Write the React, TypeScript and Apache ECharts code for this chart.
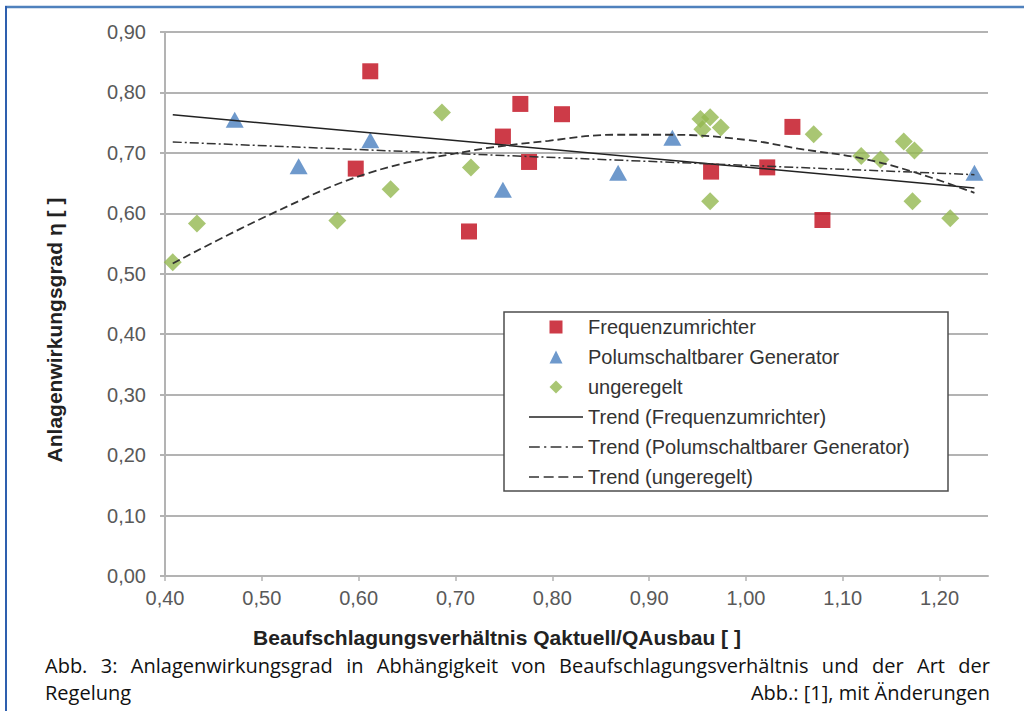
import React, { useEffect, useRef } from 'react';
import * as echarts from 'echarts';

// ---- data ----
const xTickValues = [0.4, 0.5, 0.6, 0.7, 0.8, 0.9, 1.0, 1.1, 1.2];

const freqX = [0.612, 0.597, 0.714, 0.749, 0.767, 0.776, 0.810, 0.964, 1.022, 1.048, 1.079];
const freqY = [0.835, 0.674, 0.570, 0.727, 0.781, 0.685, 0.764, 0.669, 0.676, 0.743, 0.589];

const polX = [0.472, 0.538, 0.612, 0.749, 0.868, 0.924, 1.236];
const polY = [0.755, 0.678, 0.721, 0.639, 0.667, 0.725, 0.667];

const ungX = [0.408, 0.433, 0.578, 0.633, 0.686, 0.716, 0.953, 0.963, 0.955, 0.974, 0.963, 1.070, 1.119, 1.139, 1.163, 1.174, 1.172, 1.211];
const ungY = [0.519, 0.583, 0.588, 0.640, 0.767, 0.676, 0.756, 0.759, 0.739, 0.742, 0.620, 0.731, 0.695, 0.689, 0.719, 0.704, 0.620, 0.592];

const trendFreqX = [0.408, 1.236];
const trendFreqY = [0.763, 0.642];

const trendPolX = [0.408, 1.236];
const trendPolY = [0.718, 0.664];

const trendUngX = [0.408, 0.511, 0.611, 0.714, 0.796, 0.865, 0.923, 1.003, 1.054, 1.116, 1.170, 1.236];
const trendUngY = [0.517, 0.600, 0.667, 0.703, 0.720, 0.730, 0.730, 0.721, 0.707, 0.692, 0.670, 0.634];

const seriesNames = [
  'Frequenzumrichter',
  'Polumschaltbarer Generator',
  'ungeregelt',
  'Trend (Frequenzumrichter)',
  'Trend (Polumschaltbarer Generator)',
  'Trend (ungeregelt)',
];

const yAxisTitle = 'Anlagenwirkungsgrad η [ ]';
const xAxisTitle = 'Beaufschlagungsverhältnis Qaktuell/QAusbau [ ]';
const captionLine1 = 'Abb. 3: Anlagenwirkungsgrad in Abhängigkeit von Beaufschlagungsverhältnis und der Art der';
const captionLine2Left = 'Regelung';
const captionLine2Right = 'Abb.: [1], mit Änderungen';

const pairs = (xs: number[], ys: number[]) => xs.map((x, i) => [x, ys[i]]);
const fmt = (v: number) => v.toFixed(2).replace('.', ',');

const FONT = '"Liberation Sans", Arial, sans-serif';
const CAP_FONT_FAMILY = '"Open Sans", "Noto Sans", sans-serif';
const CAP_SIZE = 20;

// legend icons (filled paths; aspect kept)
const ICON_SQUARE = 'path://M0,0L10,0L10,10L0,10Z';
const ICON_TRIANGLE = 'path://M5,0L10,10L0,10Z';
const ICON_DIAMOND = 'path://M5,0L10,5L5,10L0,5Z';
const ICON_SOLID = 'path://M0,0L54,0L54,1.5L0,1.5Z';
const ICON_DASHDOT =
  'path://M0,0h10v1.5h-10z M14,0h2v1.5h-2z M20,0h10v1.5h-10z M34,0h2v1.5h-2z M40,0h10v1.5h-10z';
const ICON_DASHED =
  'path://M0,0h10v1.5h-10z M14.67,0h10v1.5h-10z M29.33,0h10v1.5h-10z M44,0h10v1.5h-10z';

function justifiedWords(text: string, x0: number, x1: number, y: number) {
  const canvas = document.createElement('canvas');
  const ctx = canvas.getContext('2d')!;
  ctx.font = `${CAP_SIZE}px "Open Sans"`;
  const words = text.split(' ');
  const widths = words.map((w) => ctx.measureText(w).width);
  const total = widths.reduce((a, b) => a + b, 0);
  const gap = (x1 - x0 - total) / (words.length - 1);
  let x = x0;
  return words.map((w, i) => {
    const el = {
      type: 'text',
      x,
      y,
      style: {
        text: w,
        fontSize: CAP_SIZE,
        lineHeight: 20,
        fontFamily: CAP_FONT_FAMILY,
        fill: '#111',
        align: 'left',
        verticalAlign: 'middle',
      },
    };
    x += widths[i] + gap;
    return el;
  });
}

export default function App() {
  const ref = useRef<HTMLDivElement>(null);

  useEffect(() => {
    document.body.style.margin = '0';
    const chart = echarts.init(ref.current!, undefined, { renderer: 'svg' });

    const lineBase = { type: 'line', symbol: 'none', silent: true, z: 3 };

    chart.setOption({
      animation: false,
      backgroundColor: '#ffffff',
      textStyle: { fontFamily: FONT },
      grid: { left: 165, top: 32, right: 36, bottom: 135 },
      xAxis: {
        type: 'value',
        min: 0.4,
        max: 1.25,
        interval: 0.1,
        axisLine: { show: true, lineStyle: { color: '#b3b3b3', width: 2 } },
        axisTick: { show: true, length: 5, customValues: xTickValues, lineStyle: { color: '#b3b3b3', width: 1.5 } },
        axisLabel: {
          customValues: xTickValues,
          formatter: (v: number) => fmt(v),
          fontSize: 20,
          color: '#595959',
          margin: 12,
          fontFamily: FONT,
        },
        splitLine: { show: false },
      },
      yAxis: {
        type: 'value',
        min: 0,
        max: 0.9,
        interval: 0.1,
        axisLine: { show: true, lineStyle: { color: '#b3b3b3', width: 2 } },
        axisTick: { show: true, length: 5, lineStyle: { color: '#b3b3b3', width: 2 } },
        axisLabel: {
          formatter: (v: number) => fmt(v),
          fontSize: 20,
          color: '#595959',
          margin: 19,
          fontFamily: FONT,
        },
        splitLine: { show: true, lineStyle: { color: '#b3b3b3', width: 2 } },
      },
      legend: {
        orient: 'vertical',
        left: 529,
        top: 317,
        padding: 0,
        itemWidth: 54,
        itemHeight: 13,
        itemGap: 10,
        selectedMode: false,
        symbolKeepAspect: true,
        itemStyle: { borderWidth: 0 },
        z: 10,
        textStyle: { fontSize: 20, color: '#333', fontFamily: FONT },
        data: [
          { name: seriesNames[0], icon: ICON_SQUARE },
          { name: seriesNames[1], icon: ICON_TRIANGLE },
          { name: seriesNames[2], icon: ICON_DIAMOND },
          { name: seriesNames[3], icon: ICON_SOLID },
          { name: seriesNames[4], icon: ICON_DASHDOT },
          { name: seriesNames[5], icon: ICON_DASHED },
        ],
      },
      graphic: [
        { type: 'line', z: 5, shape: { x1: 5, y1: 7, x2: 1024, y2: 7 }, style: { stroke: '#4f81bd', lineWidth: 2.5 } },
        { type: 'line', z: 5, shape: { x1: 6, y1: 6, x2: 6, y2: 711 }, style: { stroke: '#2e5fae', lineWidth: 2 } },
        {
          type: 'rect',
          z: 8,
          shape: { x: 504, y: 312, width: 444, height: 179 },
          style: { fill: '#ffffff', stroke: '#4d4d4d', lineWidth: 1.5 },
        },
        {
          type: 'text',
          x: 54,
          y: 330,
          rotation: Math.PI / 2,
          style: {
            text: yAxisTitle,
            fontSize: 21,
            fontWeight: 'bold',
            fontFamily: FONT,
            fill: '#222',
            align: 'center',
            verticalAlign: 'middle',
          },
        },
        {
          type: 'text',
          x: 497,
          y: 637,
          style: {
            text: xAxisTitle,
            fontSize: 21,
            fontWeight: 'bold',
            fontFamily: FONT,
            fill: '#222',
            align: 'center',
            verticalAlign: 'middle',
          },
        },
        ...justifiedWords(captionLine1, 45, 990, 665),
        {
          type: 'text',
          x: 45,
          y: 692,
          style: { text: captionLine2Left, fontSize: CAP_SIZE, lineHeight: 20, fontFamily: CAP_FONT_FAMILY, fill: '#111', align: 'left', verticalAlign: 'middle' },
        },
        {
          type: 'text',
          x: 990,
          y: 692,
          style: { text: captionLine2Right, fontSize: CAP_SIZE, lineHeight: 20, fontFamily: CAP_FONT_FAMILY, fill: '#111', align: 'right', verticalAlign: 'middle' },
        },
      ],
      series: [
        {
          name: seriesNames[0],
          type: 'scatter',
          symbol: 'rect',
          symbolSize: 16,
          itemStyle: { color: '#c00a1a' },
          data: pairs(freqX, freqY),
        },
        {
          name: seriesNames[1],
          type: 'scatter',
          symbol: 'triangle',
          symbolSize: [18, 16],
          itemStyle: { color: '#4a7fbf' },
          data: pairs(polX, polY),
        },
        {
          name: seriesNames[2],
          type: 'scatter',
          symbol: 'diamond',
          symbolSize: 18,
          itemStyle: { color: '#93b850' },
          data: pairs(ungX, ungY),
        },
        {
          ...lineBase,
          name: seriesNames[3],
          lineStyle: { color: '#222', width: 1.5, type: 'solid' },
          itemStyle: { color: '#222' },
          data: pairs(trendFreqX, trendFreqY),
        },
        {
          ...lineBase,
          name: seriesNames[4],
          lineStyle: { color: '#333', width: 1.5, type: [9, 3, 2, 3] },
          itemStyle: { color: '#333' },
          data: pairs(trendPolX, trendPolY),
        },
        {
          ...lineBase,
          name: seriesNames[5],
          smooth: 0.4,
          lineStyle: { color: '#333', width: 1.8, type: [8, 4] },
          itemStyle: { color: '#333' },
          data: pairs(trendUngX, trendUngY),
        },
      ],
    });

    return () => chart.dispose();
  }, []);

  return <div ref={ref} style={{ width: 1024, height: 711 }} />;
}
